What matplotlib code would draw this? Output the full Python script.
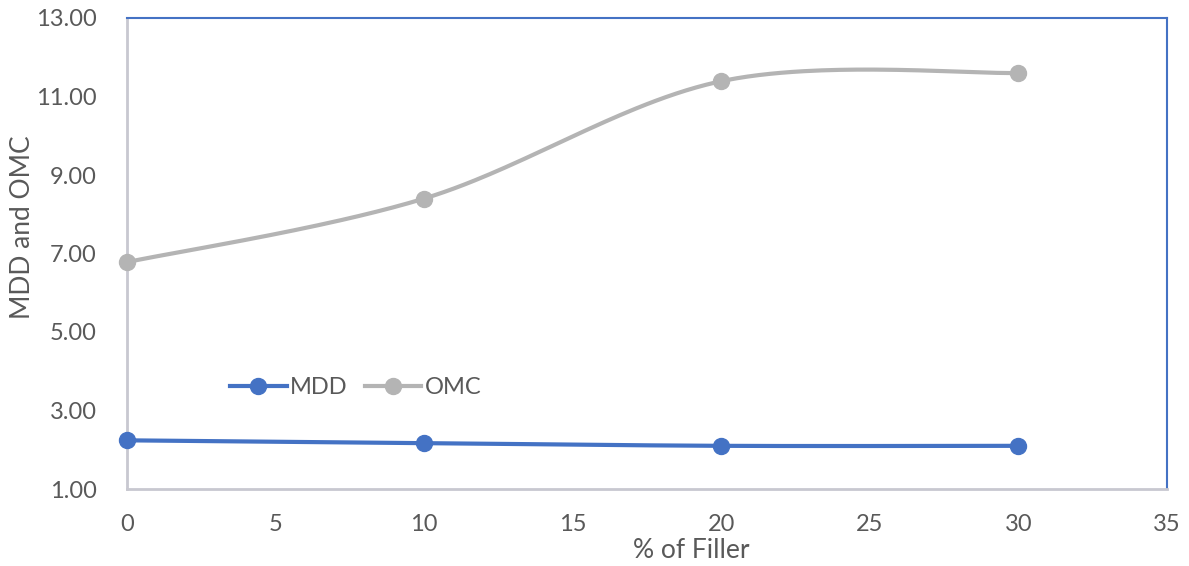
import numpy as np
import matplotlib
matplotlib.use("Agg")
import matplotlib.pyplot as plt
from matplotlib.lines import Line2D

filler = [0, 10, 20, 30]
mdd = [2.24, 2.17, 2.10, 2.10]
omc = [6.78, 8.40, 11.39, 11.60]
yticks = [1, 3, 5, 7, 9, 11, 13]
xticks = [0, 5, 10, 15, 20, 25, 30, 35]

def smooth(x, y, n=60):
    # Catmull-Rom style smoothing (like Excel's smoothed line)
    x = np.asarray(x, float); y = np.asarray(y, float)
    px = np.concatenate([[x[0]], x, [x[-1]]])
    py = np.concatenate([[y[0]], y, [y[-1]]])
    xs, ys = [], []
    for i in range(1, len(px) - 2):
        p0 = np.array([px[i], py[i]]); p1 = np.array([px[i+1], py[i+1]])
        pm = np.array([px[i-1], py[i-1]]); pp = np.array([px[i+2], py[i+2]])
        c1 = p0 + (p1 - pm) / 6.0
        c2 = p1 - (pp - p0) / 6.0
        t = np.linspace(0, 1, n)[:, None]
        b = (1-t)**3*p0 + 3*(1-t)**2*t*c1 + 3*(1-t)*t**2*c2 + t**3*p1
        xs.append(b[:, 0]); ys.append(b[:, 1])
    return np.concatenate(xs), np.concatenate(ys)

plt.rcParams['font.family'] = ['Lato', 'DejaVu Sans']
W, H = 1189, 566
fig = plt.figure(figsize=(W/100, H/100), dpi=100)
ax = fig.add_axes([127/W, 1-489/H, (1167-127)/W, (489-18)/H])

blue = '#4472C4'
gray = '#B4B4B4'
tc = '#595959'

for y, c in [(omc, gray), (mdd, blue)]:
    sx, sy = smooth(filler, y)
    ax.plot(sx, sy, color=c, lw=3, solid_capstyle='round', zorder=2)
    ax.plot(filler, y, 'o', color=c, ms=11.5, zorder=3, clip_on=False)

ax.set_xlim(0, 35)
ax.set_ylim(1, 13)
ax.set_xticks(xticks)
ax.set_yticks(yticks)
ax.set_yticklabels([f"{v:.2f}" for v in yticks])
ax.tick_params(length=0, labelsize=17, colors=tc)
ax.tick_params(axis='y', pad=22)
ax.tick_params(axis='x', pad=18)

for s in ['left', 'bottom']:
    ax.spines[s].set_color('#C8C8D0')
    ax.spines[s].set_linewidth(2)
for s in ['top', 'right']:
    ax.spines[s].set_color(blue)
    ax.spines[s].set_linewidth(1.5)

fig.text(691/W, 1-551/H, '% of Filler', fontsize=19, color=tc, ha='center', va='center')
fig.text(23/W, 1-227/H, 'MDD and OMC', fontsize=19, color=tc, ha='center', va='center',
         rotation=90)

handles = [Line2D([], [], color=blue, lw=3, marker='o', ms=11.5),
           Line2D([], [], color=gray, lw=3, marker='o', ms=11.5)]
ax.legend(handles, ['MDD', 'OMC'], loc='center', bbox_to_anchor=(0.22, 0.216),
          ncol=2, frameon=False, fontsize=17, labelcolor=tc,
          handlelength=2.4, handletextpad=0.15, columnspacing=0.7)

fig.savefig('out.png', dpi=100)
